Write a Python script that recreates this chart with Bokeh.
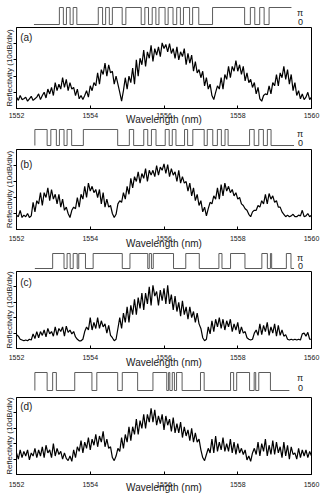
import numpy as np
from bokeh.plotting import figure
from bokeh.models import Range1d, FixedTicker
from bokeh.layouts import column
from bokeh.core.properties import value
from bokeh.embed import file_html
from bokeh.resources import INLINE

# ---------------- data ----------------
x_ticks = [1552, 1554, 1556, 1558, 1560]
div_ticks = [1, 2, 3, 4]          # 10 dB divisions
panel_labels = ["(a)", "(b)", "(c)", "(d)"]
phase_labels = ["\u03c0", "0"]

# reflectivity in divisions (10 dB/div), 0.05 nm steps from 1552 to 1560 nm
refl_a = [0.7, 0.5, 0.8, 0.55, 0.6, 0.7, 0.45, 0.6, 0.75, 0.5, 0.6, 0.7, 0.9, 0.55, 0.8,
          1.0, 0.65, 1.2, 0.9, 1.3, 0.8, 1.6, 1.1, 1.5, 1.2, 1.9, 1.3, 1.8, 1.1, 1.6, 1.2, 1.3, 0.8, 1.2, 0.6,
          0.8, 0.55,
          0.8, 1.1, 0.7, 1.4, 1.1, 1.6, 1.4, 2.2, 1.5, 2.4, 2.1, 2.8, 2.0, 2.7, 2.2, 2.3, 1.5, 2.0, 1.5, 1.0, 0.45,
          1.1, 1.9, 1.2, 2.0, 1.6, 2.5, 1.5, 3.0, 2.0, 3.1, 2.7, 3.6, 2.6, 3.5, 3.1, 3.9, 2.9, 3.7, 3.3, 3.8,
          3.2, 4.05, 3.7, 3.95, 3.5, 4.0, 3.4, 3.7, 3.1, 3.8, 3.0, 3.5, 3.2, 3.7, 2.7, 3.4, 2.8, 3.3, 2.3, 2.9,
          2.2, 2.4, 1.9, 2.3, 1.4, 1.9, 1.2, 1.5, 0.8, 0.55,
          1.0, 1.4, 1.2, 1.9, 1.2, 2.1, 1.8, 2.6, 1.9, 2.6, 2.3, 2.95, 2.3, 2.7, 2.1, 2.6, 1.7, 2.2, 1.6, 1.8,
          1.3, 1.6, 0.9, 1.3, 0.6, 0.45, 0.8, 0.9, 0.85, 1.4, 0.9, 1.6, 1.4, 2.1, 1.4, 2.2, 1.9, 2.6, 1.8, 2.4,
          1.5, 2.1, 1.1, 1.6, 0.8, 1.1, 0.6, 0.9, 0.55, 0.7, 1.0, 0.55, 0.7]
refl_b = [0.9, 0.8, 1.2, 0.75, 0.9, 0.8, 1.0, 0.75, 0.85,
          1.7, 1.1, 1.8, 1.6, 2.3, 1.5, 2.3, 2.0, 2.6, 1.8, 2.5, 1.9, 2.2, 1.6, 2.2, 1.4, 1.9, 1.2, 1.4, 1.0, 0.75,
          1.2, 1.4, 1.3, 2.0, 1.4, 2.2, 1.9, 2.7, 2.0, 2.9, 2.4, 2.7, 2.3, 2.5, 2.0, 2.5, 1.6, 2.3, 1.4, 1.9,
          1.4, 1.5, 1.0, 0.75, 0.95,
          1.6, 1.8, 1.7, 2.3, 1.9, 2.7, 2.2, 3.2, 2.6, 3.3, 3.0, 3.6, 2.9, 3.5, 3.2, 3.8, 3.0, 3.7, 3.4, 3.7,
          3.3, 4.0, 3.4, 3.9, 3.7, 4.1, 3.5, 4.05, 3.3, 3.8, 3.4, 3.6, 3.0, 3.7, 2.9, 3.3, 2.9, 3.0, 2.4, 2.9,
          2.1, 2.6, 1.8, 2.2, 1.5, 1.8, 1.1, 1.4, 0.85, 1.3,
          1.7, 1.6, 2.1, 1.9, 2.6, 1.9, 2.8, 2.1, 2.9, 2.4, 2.7, 2.3, 2.5, 2.1, 2.3, 1.9, 2.0, 1.6, 1.5, 1.3,
          1.2, 0.95, 0.8,
          1.1, 1.2, 1.2, 1.5, 1.4, 1.8, 1.6, 2.2, 1.6, 2.25, 1.9, 2.1, 1.7, 1.8, 1.4, 1.4, 1.1, 0.95, 0.8, 0.9,
          0.8, 0.85, 0.95, 0.8, 0.8, 0.9, 0.85, 1.2, 0.8, 0.85, 1.0, 0.8, 0.9]
refl_c = [0.9, 0.8, 0.6, 0.55, 0.5, 0.55, 0.5, 0.6, 0.55,
          0.95, 0.65, 1.1, 0.7, 1.1, 0.85, 1.2, 0.75, 1.3, 0.95, 1.1, 0.8, 1.4, 0.85, 1.3, 1.1, 1.4, 0.8, 1.45,
          1.05, 1.2, 0.95, 1.1, 0.75,
          0.6, 0.5, 0.5, 0.6, 1.1, 1.4, 1.2, 2.0, 1.2, 1.7, 1.3, 2.0, 1.3, 1.8, 1.4, 1.6, 1.0, 1.5, 0.85, 0.7,
          0.5, 0.6, 1.3,
          2.0, 1.3, 2.3, 1.7, 2.7, 1.7, 2.8, 2.2, 3.2, 2.2, 3.3, 2.6, 3.6, 2.5, 3.6, 2.9, 4.0, 2.8, 4.1, 3.4,
          3.7, 2.8, 3.8, 3.1, 3.9, 2.9, 4.1, 2.9, 3.5, 2.5, 3.4, 2.4, 3.0, 2.1, 3.1, 2.2, 2.7, 1.9, 2.7, 2.0,
          2.4, 1.7, 2.3, 1.6, 1.3, 0.7, 0.5, 0.6,
          1.4, 0.95, 1.8, 1.1, 1.9, 1.4, 2.0, 1.3, 1.9, 1.2, 1.8, 1.4, 1.9, 1.1, 1.6, 1.2, 1.7, 0.95, 1.4, 1.0,
          1.1, 0.7, 0.6, 0.55,
          0.6, 1.0, 1.2, 0.85, 1.6, 0.9, 1.5, 1.1, 1.7, 0.85, 1.4, 1.0, 1.6, 0.8, 1.5, 0.85, 1.2, 0.8, 0.9, 0.6,
          0.55, 0.6, 0.55, 0.6, 0.55, 0.6, 0.55, 0.95, 1.0, 0.8, 1.05, 0.6, 0.6]
refl_d = [1.4, 1.0, 1.6, 1.1, 1.5, 1.2, 1.6, 0.95, 1.4, 1.2, 1.7, 1.1, 1.6, 1.2, 1.8, 1.1, 1.9, 1.4, 1.6, 1.1,
          2.0, 1.2, 1.7, 1.3, 1.5, 1.0, 1.4, 1.05,
          0.9, 1.2, 0.85, 1.6, 1.1, 1.8, 1.5, 2.2, 1.4, 2.1, 1.7, 2.4, 1.6, 2.3, 1.9, 2.6, 1.8, 2.5, 2.1, 2.8,
          1.8, 2.3, 1.7, 1.8, 1.1,
          0.9, 1.2, 1.7, 1.5, 2.4, 1.7, 2.6, 2.1, 3.1, 2.2, 3.1, 2.6, 3.6, 2.6, 3.5, 3.0, 3.9, 3.0, 3.9, 3.4,
          4.3, 3.4, 4.2, 3.2, 3.8, 3.3, 3.9, 2.9, 3.8, 3.2, 3.6, 2.8, 3.7, 2.7, 3.3, 2.7, 3.4, 2.4, 3.1, 2.5,
          2.9, 2.2, 3.0, 2.1, 2.7, 2.1, 2.3, 1.6, 1.1,
          0.9, 1.3, 1.7, 1.4, 2.3, 1.4, 2.5, 1.5, 2.1, 1.6, 2.4, 1.5, 2.0, 1.5, 2.3, 1.4, 2.1, 1.3, 2.0, 1.4,
          1.7, 1.3, 1.6, 0.95, 1.2, 0.85, 1.4, 1.7, 1.3, 2.1, 1.2, 2.0, 1.5, 2.3, 1.2, 1.9, 1.3, 2.2, 1.3, 2.1,
          1.4, 1.8, 1.1, 2.1, 1.2, 1.9, 1.0, 1.8, 1.3, 1.4, 1.0, 1.7, 1.1, 1.6, 1.2, 1.6, 1.1, 1.5, 1.2]

# phase profile: start level (1 = pi, 0 = 0), start/end positions and
# switching positions along the grating (percent of length)
phase_a_start, phase_a_begin, phase_a_end = 0, 0.0, 99.0
phase_a_edges = [9.78, 11.31, 12.49, 13.90, 15.08, 16.49, 24.73, 26.38, 27.56, 28.98, 30.15, 33.92,
                 35.34, 41.23, 42.64, 44.05, 45.47, 46.88, 48.06, 50.41, 51.59, 53.47, 54.89, 56.30,
                 57.48, 59.84, 61.01, 63.37, 68.67, 81.0, 83.2, 84.9, 86.8, 88.5, 90.4]
phase_b_start, phase_b_begin, phase_b_end = 1, 0.35, 100.0
phase_b_edges = [5.07, 6.49, 8.61, 9.79, 11.56, 12.74, 14.50, 18.99, 32.19, 36.67, 38.33, 42.22,
                 43.75, 45.17, 46.93, 50.47, 52.00, 53.18, 54.60, 57.90, 59.08, 61.08, 65.45, 66.63,
                 68.75, 70.52, 72.05, 73.47, 74.65, 82.90, 84.67, 86.44, 88.21, 89.74, 91.16]
phase_c_start, phase_c_begin, phase_c_end = 0, 0.35, 100.0
phase_c_edges = [7.19, 11.56, 12.74, 13.92, 15.09, 16.63, 17.22, 19.81, 22.76, 33.96, 36.91, 43.75,
                 44.34, 45.17, 45.87, 53.66, 58.37, 63.56, 71.11, 72.29, 75.59, 81.13, 87.62, 89.74,
                 90.92, 91.39, 97.05, 98.82]
phase_d_start, phase_d_begin, phase_d_end = 1, 0.35, 98.2
phase_d_edges = [5.07, 7.19, 8.61, 15.68, 22.29, 24.17, 32.19, 33.96, 39.86, 45.75, 51.06, 51.77,
                 52.24, 53.18, 54.01, 54.83, 56.96, 64.03, 65.45, 75.59, 76.77, 77.95, 82.90, 84.67,
                 85.26, 86.44, 90.92]

# ---------------- layout constants ----------------
W = 321
FONT = "Liberation Sans"
INK = "#1a1a1a"


def step_xy(start, begin, end, edges):
    xs, ys = [], []
    if start == 1:
        xs.append(begin); ys.append(0)
    xs.append(begin); ys.append(start)
    lvl = start
    for e in edges:
        xs += [e, e]
        ys += [lvl, 1 - lvl]
        lvl = 1 - lvl
    xs.append(end); ys.append(lvl)
    return xs, ys


def phase_fig(H, py_pi, py_0, start, begin, end, edges):
    s = py_0 - py_pi
    y_end = 1 + py_pi / s
    y_start = -(H - py_0) / s
    p = figure(width=W, height=H, x_range=Range1d(-6.71, 106.71),
               y_range=Range1d(y_start, y_end), x_axis_type=None, y_axis_type=None,
               min_border=0, output_backend="svg", toolbar_location=None)
    p.grid.visible = False
    p.outline_line_color = None
    xs, ys = step_xy(start, begin, end, edges)
    p.line(xs, ys, line_color="#4a4a4a", line_width=0.9)
    p.text(x=[102.3, 102.5], y=[0.7, 0.16], text=phase_labels,
           text_font=value(FONT), text_font_size="9px", text_color=INK,
           text_align="center", text_baseline="middle")
    return p


def spec_fig(top, frame_h, bottom, tick_std, lab_std, label, lab_off, refl):
    p = figure(frame_width=295, frame_height=frame_h,
               x_range=Range1d(1552, 1560), y_range=Range1d(0, 5),
               min_border_left=16, min_border_right=10, min_border_top=top,
               min_border_bottom=bottom,
               output_backend="svg", toolbar_location=None)
    p.grid.visible = False
    p.outline_line_color = "black"
    p.outline_line_width = 1
    p.xaxis.ticker = FixedTicker(ticks=x_ticks, minor_ticks=[])
    p.xaxis.major_tick_in = 3
    p.xaxis.major_tick_out = 0
    p.xaxis.minor_tick_in = 0
    p.xaxis.minor_tick_out = 0
    p.xaxis.major_label_standoff = tick_std
    p.xaxis.major_label_text_font = FONT
    p.xaxis.major_label_text_font_size = "7px"
    p.xaxis.major_label_text_color = INK
    p.xaxis.axis_label = "Wavelength (nm)"
    p.xaxis.axis_label_text_font = FONT
    p.xaxis.axis_label_text_font_size = "10px"
    p.xaxis.axis_label_text_font_style = "normal"
    p.xaxis.axis_label_text_color = INK
    p.xaxis.axis_label_standoff = lab_std

    p.yaxis.ticker = FixedTicker(ticks=div_ticks, minor_ticks=[])
    p.yaxis.major_tick_in = 0
    p.yaxis.major_tick_out = 3
    p.yaxis.minor_tick_in = 0
    p.yaxis.minor_tick_out = 0
    p.yaxis.major_label_overrides = {t: "" for t in div_ticks}
    p.yaxis.major_label_standoff = 0
    p.yaxis.axis_label = "Reflectivity (10dB/div)"
    p.yaxis.axis_label_text_font = FONT
    p.yaxis.axis_label_text_font_size = "8px"
    p.yaxis.axis_label_text_font_style = "normal"
    p.yaxis.axis_label_text_color = INK
    p.yaxis.axis_label_standoff = 0
    p.axis.axis_line_color = "black"
    p.axis.major_tick_line_color = "black"

    wl = np.linspace(1552.0, 1560.0, len(refl))
    p.line(wl, refl, line_color="black", line_width=1.2)
    p.text(x=[1552.1], y=[5 - lab_off / frame_h * 5], text=[label],
           text_font=value(FONT), text_font_size="10px", text_color=INK,
           text_align="left", text_baseline="top")
    return p


figs = [
    phase_fig(26, 7, 24, phase_a_start, phase_a_begin, phase_a_end, phase_a_edges),
    spec_fig(1, 81, 20, 4, -7, panel_labels[0], 4, refl_a),
    phase_fig(20, 1, 17, phase_b_start, phase_b_begin, phase_b_end, phase_b_edges),
    spec_fig(1, 80, 23, 6, -6, panel_labels[1], 9, refl_b),
    phase_fig(18, 1, 16, phase_c_start, phase_c_begin, phase_c_end, phase_c_edges),
    spec_fig(1, 77, 23, 6, -6, panel_labels[2], 5, refl_c),
    phase_fig(24, 1, 19, phase_d_start, phase_d_begin, phase_d_end, phase_d_edges),
    spec_fig(2, 77, 23, 7, -8, panel_labels[3], 3, refl_d),
]

layout = column(*figs, spacing=0)
open("out.html", "w").write(file_html(layout, INLINE))
